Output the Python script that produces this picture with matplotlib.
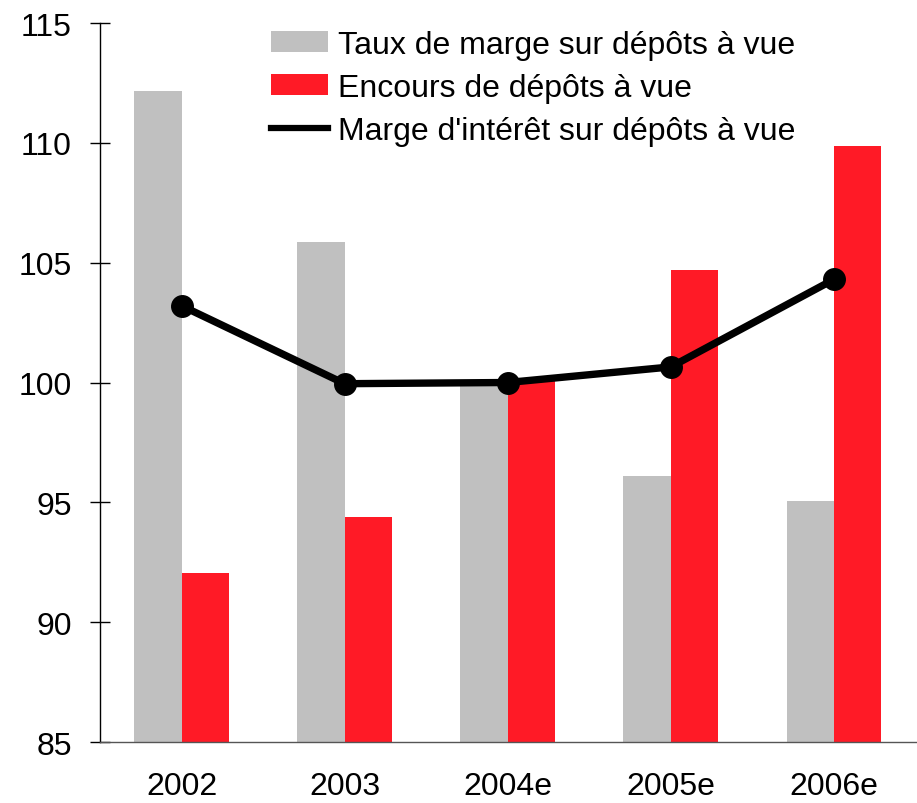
import numpy as np
import matplotlib
matplotlib.use('Agg')
import matplotlib.pyplot as plt
from matplotlib.patches import Patch
from matplotlib.lines import Line2D

plt.rcParams.update({
    "font.family": ["Liberation Sans", "DejaVu Sans"],
    "font.size": 23,
})

# --- data ---
years = ['2002', '2003', '2004e', '2005e', '2006e']
taux_marge = [112.15, 105.85, 100.0, 96.1, 95.05]
encours = [92.05, 94.4, 100.05, 104.7, 109.85]
marge_interet = [103.2, 99.95, 100.0, 100.65, 104.3]

labels = ['Taux de marge sur dépôts à vue',
          'Encours de dépôts à vue',
          "Marge d'intérêt sur dépôts à vue"]

gray = '#c0c0c0'
red = '#ff1a26'

fig = plt.figure(figsize=(9.17, 8.04), dpi=100)
ax = fig.add_axes([100 / 917, 61 / 804, 817 / 917, 719 / 804])

x = np.arange(len(years))
w = 0.29
ax.bar(x - w / 2, taux_marge, width=w, color=gray, zorder=1)
ax.bar(x + w / 2, encours, width=w, color=red, zorder=1)
ax.plot(x, marge_interet, color='black', lw=5.3, marker='o', markersize=15.5, zorder=3)

ax.set_ylim(85, 115)
ax.set_xlim(-0.5, 4.51)
ax.set_yticks(np.arange(85, 116, 5))
ax.set_xticks(x)
ax.set_xticklabels(years)

for s in ['top', 'right']:
    ax.spines[s].set_visible(False)
ax.spines['left'].set_linewidth(1)
ax.spines['bottom'].set_linewidth(1)
ax.spines['bottom'].set_color('#555555')

ax.tick_params(axis='y', direction='inout', length=14.4, width=1, pad=13)
ax.tick_params(axis='x', length=0, pad=21)

handles = [Patch(facecolor=gray, edgecolor='none'),
           Patch(facecolor=red, edgecolor='none'),
           Line2D([], [], color='black', lw=4.5)]
ax.legend(handles, labels, loc='upper left', bbox_to_anchor=(271 / 917, 773 / 804),
          bbox_transform=fig.transFigure, frameon=False, borderpad=0,
          borderaxespad=0, handlelength=1.78, handleheight=0.62,
          handletextpad=0.31, labelspacing=0.4, fontsize=23)

fig.savefig('out.png', dpi=100)
